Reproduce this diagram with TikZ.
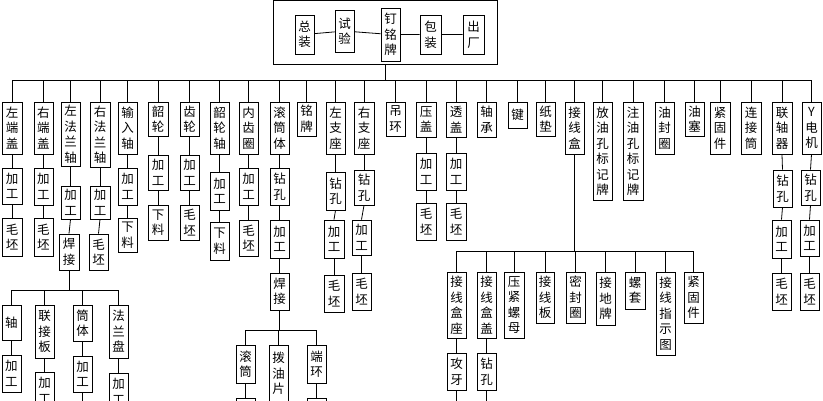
\documentclass[tikz,border=0pt]{standalone}
\usepackage{fontspec}
\setmainfont{Noto Sans CJK SC}
\usetikzlibrary{fit}
\tikzset{bxs/.style={draw,line width=0.8pt,inner sep=0pt},
 tx/.style={align=center,font=\fontsize{12.5}{15.5}\selectfont,inner sep=0pt},
 ln/.style={line width=0.8pt}}
\newcommand\B[6]{\node[bxs,fit={(#2,#3) (#4,#5)}] (#1) {};\node[tx] at (#1.center) {#6};}
\newcommand\V[2]{\draw[ln] (#1.south) -- (#2.north);}
\begin{document}
\begin{tikzpicture}[x=1pt,y=-1pt]
\useasboundingbox (0,0) rectangle (823,400);
\clip (0,0) rectangle (823,400);
% top
\B{top}{273}{0}{497}{64}{}
\B{t1}{295}{15}{314}{54}{总\\装}
\B{t2}{335}{10}{354}{52}{试\\验}
\B{t3}{381}{8}{400}{61}{钉\\铭\\牌}
\B{t4}{420}{15}{441}{54}{包\\装}
\B{t5}{463}{15}{484}{54}{出\\厂}
\draw[ln] (t1)--(t2) (t2)--(t3) (t3)--(t4) (t4)--(t5);
% level 1
\B{c1}{2}{102}{22}{154}{左\\端\\盖}
\B{c2}{34}{102}{53}{154}{右\\端\\盖}
\B{c3}{61}{102}{80}{166}{左\\法\\兰\\轴}
\B{c4}{90}{102}{110}{167}{右\\法\\兰\\轴}
\B{c5}{118}{102}{137}{154}{输\\入\\轴}
\B{c6}{148}{102}{168}{136}{韶\\轮}
\B{c7}{180}{102}{199}{136}{齿\\轮}
\B{c8}{210}{102}{229}{154}{韶\\轮\\轴}
\B{c9}{239}{102}{258}{154}{内\\齿\\圈}
\B{c10}{270}{102}{289}{154}{滚\\筒\\体}
\B{c11}{297}{102}{316}{136}{铭\\牌}
\B{c12}{326}{102}{345}{154}{左\\支\\座}
\B{c13}{354}{102}{374}{154}{右\\支\\座}
\B{c14}{386}{102}{405}{136}{吊\\环}
\B{c15}{416}{102}{436}{137}{压\\盖}
\B{c16}{446}{102}{466}{137}{透\\盖}
\B{c17}{477}{102}{496}{137}{轴\\承}
\B{c18}{508}{102}{527}{128}{键}
\B{c19}{536}{102}{555}{136}{纸\\垫}
\B{c20}{565}{102}{584}{154}{接\\线\\盒}
\B{c21}{593}{102}{612}{200}{放\\油\\孔\\标\\记\\牌}
\B{c22}{623}{102}{643}{200}{注\\油\\孔\\标\\记\\牌}
\B{c23}{655}{102}{674}{154}{油\\封\\圈}
\B{c24}{685}{102}{704}{136}{油\\塞}
\B{c25}{710}{102}{730}{154}{紧\\固\\件}
\B{c26}{741}{102}{761}{154}{连\\接\\筒}
\B{c27}{772}{102}{792}{154}{联\\轴\\器}
\B{c28}{802}{102}{821}{154}{Y\\电\\机}
\coordinate (bus) at (0,80);
\draw[ln] (top.south) -- (top.south |- bus);
\draw[ln] (c1.north |- bus) -- (c28.north |- bus);
\foreach \c in {c1,c2,c3,c4,c5,c6,c7,c8,c9,c10,c11,c12,c13,c14,c15,c16,c17,c18,c19,c20,c21,c22,c23,c24,c25,c26,c27,c28}
  \draw[ln] (\c.north) -- (\c.north |- bus);
% chains
\B{a1}{2}{168}{22}{204}{加\\工}\B{b1}{2}{218}{22}{256}{毛\\坯}\V{c1}{a1}\V{a1}{b1}
\B{a2}{34}{168}{53}{205}{加\\工}\B{b2}{34}{218}{53}{256}{毛\\坯}\V{c2}{a2}\V{a2}{b2}
\B{a3}{61}{186}{80}{219}{加\\工}\B{b3}{59}{234}{79}{270}{焊\\接}\V{c3}{a3}\V{a3}{b3}
\B{a4}{90}{186}{110}{219}{加\\工}\B{b4}{89}{234}{108}{270}{毛\\坯}\V{c4}{a4}\V{a4}{b4}
\B{a5}{118}{168}{137}{205}{加\\工}\B{b5}{118}{218}{137}{252}{下\\料}\V{c5}{a5}\V{a5}{b5}
\B{a6}{148}{155}{168}{190}{加\\工}\B{b6}{148}{205}{168}{240}{下\\料}\V{c6}{a6}\V{a6}{b6}
\B{a7}{180}{155}{199}{190}{加\\工}\B{b7}{180}{205}{199}{240}{毛\\坯}\V{c7}{a7}\V{a7}{b7}
\B{a8}{210}{172}{229}{210}{加\\工}\B{b8}{210}{222}{229}{260}{下\\料}\V{c8}{a8}\V{a8}{b8}
\B{a9}{239}{168}{258}{205}{加\\工}\B{b9}{239}{220}{258}{256}{毛\\坯}\V{c9}{a9}\V{a9}{b9}
\B{a10}{270}{168}{289}{205}{钻\\孔}\B{b10}{270}{220}{289}{258}{加\\工}\B{d10}{270}{273}{289}{310}{焊\\接}\V{c10}{a10}\V{a10}{b10}\V{b10}{d10}
\B{a12}{326}{172}{345}{210}{钻\\孔}\B{b12}{324}{220}{344}{258}{加\\工}\B{d12}{324}{275}{344}{312}{毛\\坯}\V{c12}{a12}\V{a12}{b12}\V{b12}{d12}
\B{a13}{354}{170}{374}{205}{钻\\孔}\B{b13}{352}{220}{371}{255}{加\\工}\B{d13}{352}{273}{371}{310}{毛\\坯}\V{c13}{a13}\V{a13}{b13}\V{b13}{d13}
\B{a15}{416}{153}{436}{190}{加\\工}\B{b15}{416}{203}{436}{240}{毛\\坯}\V{c15}{a15}\V{a15}{b15}
\B{a16}{446}{153}{466}{190}{加\\工}\B{b16}{446}{203}{466}{240}{毛\\坯}\V{c16}{a16}\V{a16}{b16}
\B{a27}{773}{170}{792}{207}{钻\\孔}\B{b27}{772}{220}{791}{258}{加\\工}\B{d27}{772}{273}{791}{310}{毛\\坯}\V{c27}{a27}\V{a27}{b27}\V{b27}{d27}
\B{a28}{801}{170}{820}{205}{钻\\孔}\B{b28}{800}{220}{819}{256}{加\\工}\B{d28}{800}{273}{819}{310}{毛\\坯}\V{c28}{a28}\V{a28}{b28}\V{b28}{d28}
% sub tree of 左法兰轴
\B{e1}{2}{305}{21}{340}{轴}
\B{e2}{35}{305}{54}{358}{联\\接\\板}
\B{e3}{73}{305}{92}{341}{筒\\体}
\B{e4}{109}{305}{128}{358}{法\\兰\\盘}
\coordinate (busA) at (0,290);
\draw[ln] (b3.south) -- (b3.south |- busA);
\draw[ln] (e1.north |- busA) -- (e4.north |- busA);
\foreach \c in {e1,e2,e3,e4} \draw[ln] (\c.north) -- (\c.north |- busA);
\B{f1}{2}{355}{21}{392}{加\\工}\V{e1}{f1}
\B{f2}{35}{372}{54}{409}{加\\工}\V{e2}{f2}
\B{f3}{73}{356}{92}{392}{加\\工}\V{e3}{f3}\draw[ln] (f3.south) -- ++(0,10);
\B{f4}{109}{373}{128}{410}{加\\工}\V{e4}{f4}
% sub tree of 滚筒体
\B{g1}{236}{345}{255}{383}{滚\\筒}
\B{g2}{269}{345}{288}{402}{拨\\油\\片}
\B{g3}{307}{345}{326}{383}{端\\环}
\coordinate (busB) at (0,330);
\draw[ln] (d10.south) -- (d10.south |- busB);
\draw[ln] (g1.north |- busB) -- (g3.north |- busB);
\foreach \c in {g1,g2,g3} \draw[ln] (\c.north) -- (\c.north |- busB);
\node[bxs,fit={(236,398) (255,430)}] (h1) {};\V{g1}{h1}
\node[bxs,fit={(307,398) (326,430)}] (h3) {};\V{g3}{h3}
% sub tree of 接线盒
\B{k1}{447}{272}{466}{338}{接\\线\\盒\\座}
\B{k2}{477}{272}{496}{338}{接\\线\\盒\\盖}
\B{k3}{504}{272}{524}{338}{压\\紧\\螺\\母}
\B{k4}{536}{272}{554}{323}{接\\线\\板}
\B{k5}{566}{272}{585}{323}{密\\封\\圈}
\B{k6}{596}{272}{615}{325}{接\\地\\牌}
\B{k7}{625}{272}{645}{309}{螺\\套}
\B{k8}{656}{272}{675}{355}{接\\线\\指\\示\\图}
\B{k9}{684}{272}{703}{323}{紧\\固\\件}
\coordinate (busC) at (0,251);
\draw[ln] (c20.south) -- (c20.south |- busC);
\draw[ln] (k1.north |- busC) -- (k9.north |- busC);
\foreach \c in {k1,k2,k3,k4,k5,k6,k7,k8,k9} \draw[ln] (\c.north) -- (\c.north |- busC);
\B{m1}{447}{353}{466}{390}{攻\\牙}\V{k1}{m1}\draw[ln] (m1.south) -- ++(0,12);
\B{m2}{477}{353}{496}{390}{钻\\孔}\V{k2}{m2}\draw[ln] (m2.south) -- ++(0,12);
\end{tikzpicture}
\end{document}
